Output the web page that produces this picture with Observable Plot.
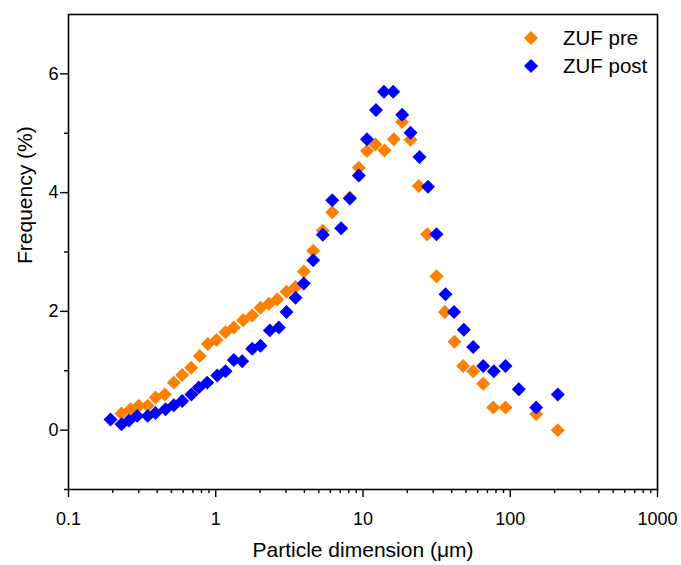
<!DOCTYPE html>
<html>
<head>
<meta charset="utf-8">
<script src="https://cdn.jsdelivr.net/npm/d3@7"></script>
<script src="https://cdn.jsdelivr.net/npm/@observablehq/plot@0.6"></script>
<style>
  html, body { margin: 0; padding: 0; background: #fff; }
  #wrap { position: relative; width: 681px; height: 565px; font-family: "Liberation Sans", Arial, sans-serif; }
  .leg { position: absolute; left: 522px; font-size: 20.5px; color: #000; display: flex; align-items: center; height: 22px; }
  .sw { width: 10px; height: 10px; transform: rotate(45deg); margin-left: 4px; margin-right: 27px; }
</style>
</head>
<body>
<div id="wrap"></div>
<script>
// Series names and colours
const seriesNames = ["ZUF pre", "ZUF post"];
const seriesColors = ["#FF7F00", "#0000FF"];

// ZUF pre (x in µm, y in %)
const xPre = [0.229, 0.264, 0.300, 0.345, 0.390, 0.451, 0.519, 0.592, 0.681, 0.779, 0.883, 1.012, 1.165, 1.326, 1.536, 1.768, 2.013, 2.292, 2.614, 3.024, 3.481, 3.963, 4.590, 5.333, 6.177, 8.136, 9.365, 10.65, 12.16, 14.0, 16.19, 18.46, 21.02, 23.93, 27.29, 31.56, 35.94, 41.82, 47.91, 56.03, 65.52, 76.6, 92.85, 150.1, 210.3];
const yPre = [0.28, 0.35, 0.41, 0.41, 0.55, 0.60, 0.80, 0.93, 1.05, 1.25, 1.45, 1.52, 1.65, 1.73, 1.85, 1.93, 2.06, 2.13, 2.20, 2.33, 2.41, 2.67, 3.02, 3.36, 3.67, 3.92, 4.42, 4.70, 4.81, 4.71, 4.90, 5.19, 4.89, 4.11, 3.30, 2.59, 1.99, 1.49, 1.08, 0.99, 0.78, 0.38, 0.38, 0.27, 0.0];

// ZUF post
const xPost = [0.193, 0.229, 0.257, 0.293, 0.345, 0.390, 0.456, 0.519, 0.592, 0.684, 0.767, 0.875, 1.023, 1.165, 1.326, 1.512, 1.768, 2.013, 2.328, 2.681, 3.024, 3.481, 3.963, 4.590, 5.333, 6.177, 7.112, 8.136, 9.365, 10.65, 12.26, 13.89, 16.04, 18.46, 21.02, 24.19, 27.63, 31.56, 36.34, 41.5, 48.37, 56.03, 65.52, 77.32, 92.85, 114.3, 150.1, 210.3];
const yPost = [0.18, 0.10, 0.16, 0.24, 0.24, 0.29, 0.35, 0.42, 0.49, 0.60, 0.72, 0.80, 0.92, 0.99, 1.18, 1.16, 1.37, 1.42, 1.68, 1.73, 1.99, 2.23, 2.47, 2.86, 3.29, 3.87, 3.40, 3.90, 4.29, 4.90, 5.39, 5.70, 5.70, 5.31, 5.01, 4.60, 4.10, 3.30, 2.29, 1.99, 1.69, 1.40, 1.08, 0.99, 1.08, 0.69, 0.38, 0.60];

// Axis ticks
const xMajor = [0.1, 1, 10, 100, 1000];
const xMajorLabels = ["0.1", "1", "10", "100", "1000"];
const xMinor = [];
for (const d of [0.1, 1, 10, 100]) for (let k = 2; k <= 9; k++) xMinor.push(+(d * k).toPrecision(3));
const yMajor = [0, 2, 4, 6];
const yMinor = [-1, 1, 3, 5];
const xTitle = "Particle dimension (μm)";
const yTitle = "Frequency (%)";

const pre = xPre.map((x, i) => ({x, y: yPre[i]}));
const post = xPost.map((x, i) => ({x, y: yPost[i]}));

const chart = Plot.plot({
  width: 681,
  height: 565,
  marginLeft: 68,
  marginRight: 24,
  marginTop: 14,
  marginBottom: 76,
  style: {fontFamily: "'Liberation Sans', Arial, sans-serif", color: "#000", background: "#fff"},
  x: {type: "log", domain: [0.1, 1000]},
  y: {domain: [-1, 7]},
  marks: [
    Plot.axisX({ticks: xMinor, tickSize: 4, tickFormat: () => "", strokeWidth: 1.4, label: null}),
    Plot.axisX({ticks: xMajor, tickSize: 8, tickPadding: 15, fontSize: 18, strokeWidth: 1.4,
      tickFormat: (d) => xMajorLabels[xMajor.indexOf(d)], label: null}),
    Plot.axisY({ticks: yMinor, tickSize: 4, tickFormat: () => "", strokeWidth: 1.4, label: null}),
    Plot.axisY({ticks: yMajor, tickSize: 8, tickPadding: 2, fontSize: 18, strokeWidth: 1.4, label: null}),
    Plot.frame({stroke: "#000", strokeWidth: 1.6}),
    Plot.text([xTitle], {frameAnchor: "bottom", dy: 67, fontSize: 21, fill: "#000"}),
    Plot.text([yTitle], {frameAnchor: "left", dx: -43, dy: 12, rotate: -90, fontSize: 21, fill: "#000"}),
    Plot.dot(pre, {x: "x", y: "y", symbol: "diamond2", r: 6.3, fill: seriesColors[0], stroke: "none"}),
    Plot.dot(post, {x: "x", y: "y", symbol: "diamond2", r: 6.3, fill: seriesColors[1], stroke: "none"})
  ]
});

const wrap = document.getElementById("wrap");
wrap.appendChild(chart);
seriesNames.forEach((name, i) => {
  const row = document.createElement("div");
  row.className = "leg";
  row.style.top = (27 + i * 28) + "px";
  const sw = document.createElement("div");
  sw.className = "sw";
  sw.style.background = seriesColors[i];
  row.appendChild(sw);
  const t = document.createElement("span");
  t.textContent = name;
  row.appendChild(t);
  wrap.appendChild(row);
});
</script>
</body>
</html>
